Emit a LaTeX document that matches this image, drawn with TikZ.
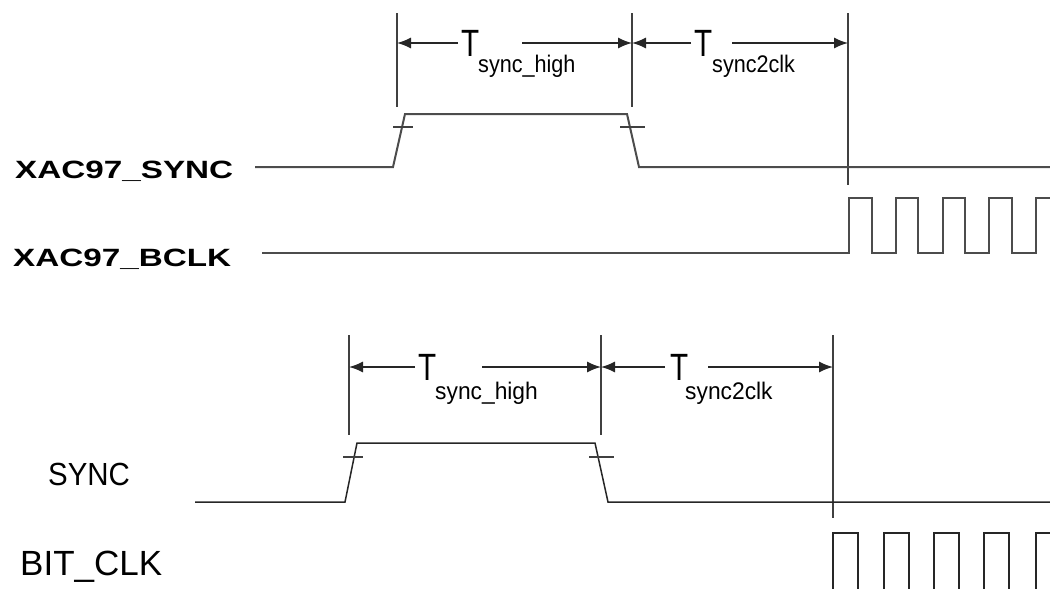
\documentclass[tikz,border=0pt]{standalone}
\usepackage{fontspec}
\setmainfont{Liberation Sans}
\usetikzlibrary{arrows.meta,calc,positioning}
\tikzset{>={Latex[length=14pt,width=11pt]}}
\tikzset{
	sig/.style={line width=2pt, black!70},
	sigb/.style={line width=1.5pt, black!85},
	marker/.style={line width=1.4pt, black!75},
	dim/.style={->, line width=1.4pt, black!85},
	tee/.style={inner sep=0pt, outer sep=3pt, anchor=west, font=\fontsize{38}{38}\selectfont},
	subs/.style={inner sep=0pt, anchor=base west, font=\fontsize{24}{24}\selectfont},
	lbl/.style={inner sep=0pt, anchor=base west},
}
\newcommand{\wide}[2]{\scalebox{#1}[1]{#2}}

\begin{document}
\begin{tikzpicture}[x=1pt,y=-1pt]
		\useasboundingbox (0,0) rectangle (1050,589);
		\clip (0,0) rectangle (1050,589);
		% upper diagram
		\node[lbl, font=\bfseries\fontsize{25}{25}\selectfont] (xsync) at (15,178) {\wide{1.33}{XAC97\_SYNC}};
		\node[lbl, font=\bfseries\fontsize{25}{25}\selectfont] (xbclk) at (13,266) {\wide{1.33}{XAC97\_BCLK}};
		\draw[marker] (397,13) -- (397,107);
		\draw[marker] (632,13) -- (632,107);
		\draw[marker] (848,13) -- (848,185);
		\coordinate (m1) at (397,43);
		\coordinate (m2) at (632,43);
		\coordinate (m3) at (848,43);
		\node[tee] (tA) at (458,43) {\wide{0.78}{T}};
		\node[subs] (sA) at (478,72) {\wide{0.9}{sync\_high}};
		\coordinate (gA) at (522,43);
		\draw[dim] (tA) -- (m1);
		\draw[dim] (gA) -- (m2);
		\node[tee] (tB) at (691,43) {\wide{0.78}{T}};
		\node[subs] (sB) at (712,72) {\wide{0.9}{sync2clk}};
		\coordinate (gB) at (732,43);
		\draw[dim] (tB) -- (m2);
		\draw[dim] (gB) -- (m3);
		\draw[sig] (255,167) -- (393,167) -- (405,114) -- (627,114) -- (639,167) -- (1050,167);
		\draw[marker] (393,127) -- (413,127);
		\draw[marker] (620,127) -- (645,127);
		\draw[sig] (262,253) -- (849,253) \foreach \i in {0,...,3} { -- ++(0,-55) -- ++(22.5,0) -- ++(0,55) -- ++(24.25,0) } -- ++(0,-55) -- (1055,198);
		% lower diagram
		\node[lbl, font=\fontsize{32}{32}\selectfont] (sync) at (48,485) {\wide{0.92}{SYNC}};
		\node[lbl, font=\fontsize{35}{35}\selectfont] (bitclk) at (20,575) {BIT\_CLK};
		\draw[marker] (349,335) -- (349,435);
		\draw[marker] (601,335) -- (601,435);
		\draw[marker] (833,335) -- (833,518);
		\coordinate (m4) at (349,367);
		\coordinate (m5) at (601,367);
		\coordinate (m6) at (833,367);
		\node[tee] (tC) at (415,367) {\wide{0.78}{T}};
		\node[subs] (sC) at (435,399) {\wide{0.95}{sync\_high}};
		\coordinate (gC) at (482,367);
		\draw[dim] (tC) -- (m4);
		\draw[dim] (gC) -- (m5);
		\node[tee, outer sep=5pt] (tD) at (665,367) {\wide{0.78}{T}};
		\node[subs] (sD) at (685,399) {\wide{0.95}{sync2clk}};
		\coordinate (gD) at (708,367);
		\draw[dim] (tD) -- (m5);
		\draw[dim] (gD) -- (m6);
		\draw[sigb] (195,502) -- (345,502) -- (357,443) -- (595,443) -- (608,502) -- (1050,502);
		\draw[marker] (343,457) -- (363,457);
		\draw[marker] (589,457) -- (614,457);
		\foreach \x in {833,884,934,984,1036}
			\draw[sigb] (\x,600) -- (\x,533) -- ++(25,0) -- ++(0,67);
	\end{tikzpicture}
\end{document}
